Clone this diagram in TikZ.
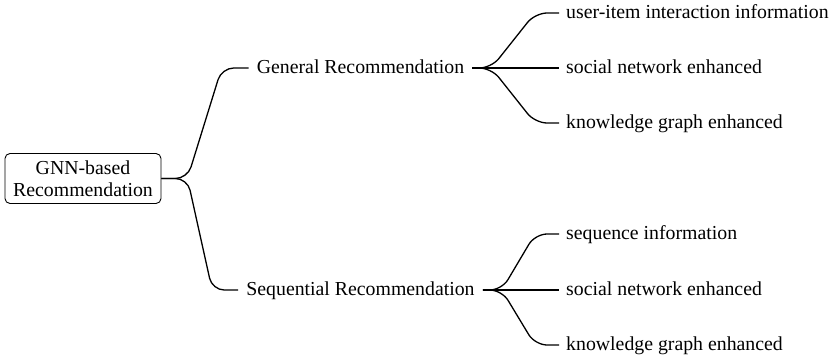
\documentclass[tikz,border=0pt]{standalone}
\usepackage{fontspec}
\setmainfont{Liberation Serif}
\begin{document}
\begin{tikzpicture}[x=1pt,y=1pt,
  conn/.style={line width=1.3pt, rounded corners=12pt},
  rootbox/.style={draw, line width=0.9pt, rounded corners=5pt, minimum width=156pt,
    minimum height=50pt, inner sep=0pt, align=center, font=\fontsize{19.8}{21.5}\selectfont},
  midnode/.style={inner xsep=8pt, inner ysep=0pt, text height=13.5pt, text depth=2.5pt,
    font=\fontsize{19.8}{21.5}\selectfont},
  leaf/.style={anchor=west, inner xsep=7pt, inner ysep=0pt, text height=13.5pt, text depth=2.5pt,
    font=\fontsize{19.8}{21.5}\selectfont}]
\useasboundingbox (0,0) rectangle (837,-359);
\node[rootbox] (root) at (83,-178.5) {GNN-based\\Recommendation};
\node[midnode] (gen) at (360.5,-68) {General Recommendation};
\node[midnode] (seq) at (360.5,-290) {Sequential Recommendation};
\node[leaf] (g1) at (559,-13) {user-item interaction information};
\node[leaf] (g2) at (559,-68) {social network enhanced};
\node[leaf] (g3) at (559,-123) {knowledge graph enhanced};
\node[leaf] (s1) at (559,-234) {sequence information};
\node[leaf] (s2) at (559,-290) {social network enhanced};
\node[leaf] (s3) at (559,-345) {knowledge graph enhanced};
\draw[conn] (root.east) -- ++(26,0) -- ([xshift=-27pt]gen.west) -- (gen.west);
\draw[conn] (root.east) -- ++(26,0) -- ([xshift=-26pt]seq.west) -- (seq.west);
\draw[conn] (gen.east) -- ++(19,0) -- ([xshift=-24pt]g1.west) -- (g1.west);
\draw[conn] (gen.east) -- (g2.west);
\draw[conn] (gen.east) -- ++(19,0) -- ([xshift=-24pt]g3.west) -- (g3.west);
\draw[conn] (seq.east) -- ++(19,0) -- ([xshift=-24pt]s1.west) -- (s1.west);
\draw[conn] (seq.east) -- (s2.west);
\draw[conn] (seq.east) -- ++(19,0) -- ([xshift=-24pt]s3.west) -- (s3.west);
\end{tikzpicture}
\end{document}
